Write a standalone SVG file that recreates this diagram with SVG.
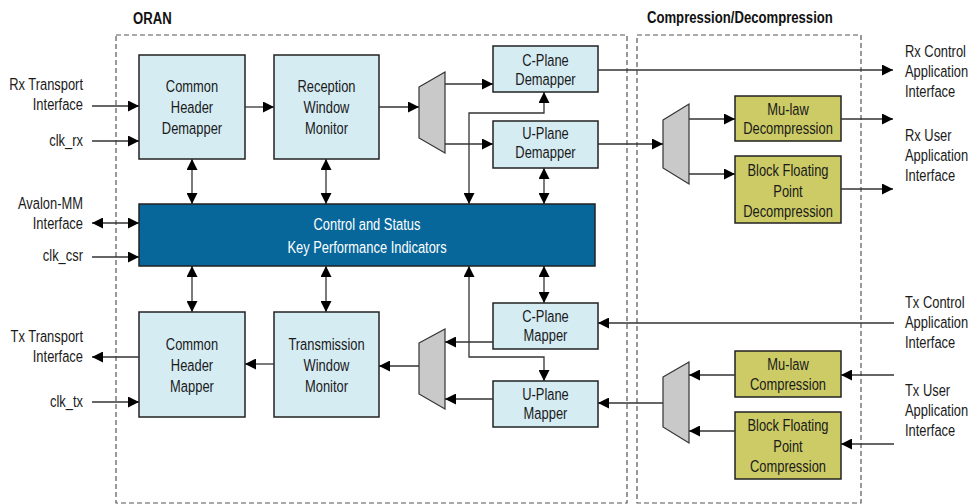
<svg xmlns="http://www.w3.org/2000/svg" width="972" height="504" viewBox="0 0 972 504">
<style>
text{font-family:"Liberation Sans",Arial,sans-serif;font-size:17px;fill:#1a1a1a}
.c{text-anchor:middle}
.r{text-anchor:end}
.t{font-weight:bold;font-size:16px;fill:#111}
.w{fill:#fff}
.box{fill:#d5ecf3;stroke:#222;stroke-width:1.5}
.csk{fill:#07679b;stroke:#222;stroke-width:1.5}
.ol{fill:#cccb66;stroke:#222;stroke-width:1.5}
.mux{fill:#c9c9c9;stroke:#333;stroke-width:1.2}
.dash{fill:none;stroke:#555;stroke-width:1.2;stroke-dasharray:5,3}
#conn line,#conn polyline{fill:none;stroke:#333;stroke-width:1.3}
.e{marker-end:url(#ah)}
.b{marker-start:url(#ah);marker-end:url(#ah)}
</style>
<defs>
<marker id="ah" viewBox="0 0 10 10" refX="10" refY="5" markerWidth="11" markerHeight="11" markerUnits="userSpaceOnUse" orient="auto-start-reverse">
<path d="M0,0 L10,5 L0,10 z" fill="#000"/>
</marker>
</defs>
<rect width="972" height="504" fill="#fff"/>
<g id="oran-frame">
<rect class="dash" x="116" y="35" width="511" height="468"/>
<g transform="scale(0.82,1)"><text class="t" x="162.2" y="24">ORAN</text></g>
</g>
<g id="comp-frame">
<rect class="dash" x="637" y="35" width="224" height="468"/>
<g transform="scale(0.82,1)"><text class="t" x="789" y="23">Compression/Decompression</text></g>
</g>
<g id="labels" transform="scale(0.76,1)">
<text class="r" x="109.21" y="90">Rx Transport</text>
<text class="r" x="109.21" y="110">Interface</text>
<text class="r" x="109.21" y="146">clk_rx</text>
<text class="r" x="109.21" y="209">Avalon-MM</text>
<text class="r" x="109.21" y="229">Interface</text>
<text class="r" x="109.21" y="261">clk_csr</text>
<text class="r" x="109.21" y="342">Tx Transport</text>
<text class="r" x="109.21" y="362">Interface</text>
<text class="r" x="109.21" y="407">clk_tx</text>
<text x="1190.79" y="57">Rx Control</text>
<text x="1190.79" y="77">Application</text>
<text x="1190.79" y="97">Interface</text>
<text x="1190.79" y="141">Rx User</text>
<text x="1190.79" y="161">Application</text>
<text x="1190.79" y="181">Interface</text>
<text x="1190.79" y="308">Tx Control</text>
<text x="1190.79" y="328">Application</text>
<text x="1190.79" y="348">Interface</text>
<text x="1190.79" y="396">Tx User</text>
<text x="1190.79" y="416">Application</text>
<text x="1190.79" y="436">Interface</text>
</g>
<g id="chd">
<rect class="box" x="139" y="55" width="106" height="104"/>
<g transform="scale(0.76,1)">
<text class="c" x="252.63" y="92">Common</text>
<text class="c" x="252.63" y="113">Header</text>
<text class="c" x="252.63" y="134">Demapper</text>
</g>
</g>
<g id="rwm">
<rect class="box" x="274" y="55" width="105" height="104"/>
<g transform="scale(0.76,1)">
<text class="c" x="429.61" y="92">Reception</text>
<text class="c" x="429.61" y="113">Window</text>
<text class="c" x="429.61" y="134">Monitor</text>
</g>
</g>
<g id="mux1"><path class="mux" d="M419,87 L445,72 L445,153 L419,138 Z"/></g>
<g id="cpd">
<rect class="box" x="493" y="46" width="105" height="46"/>
<g transform="scale(0.76,1)">
<text class="c" x="717.76" y="66">C-Plane</text>
<text class="c" x="717.76" y="85">Demapper</text>
</g>
</g>
<g id="upd">
<rect class="box" x="493" y="121" width="105" height="47"/>
<g transform="scale(0.76,1)">
<text class="c" x="717.76" y="139">U-Plane</text>
<text class="c" x="717.76" y="158">Demapper</text>
</g>
</g>
<g id="csk">
<rect class="csk" x="139" y="204" width="456" height="62"/>
<g transform="scale(0.76,1)">
<text class="c w" x="482.89" y="230">Control and Status</text>
<text class="c w" x="482.89" y="253">Key Performance Indicators</text>
</g>
</g>
<g id="chm">
<rect class="box" x="139" y="312" width="106" height="105"/>
<g transform="scale(0.76,1)">
<text class="c" x="252.63" y="350">Common</text>
<text class="c" x="252.63" y="371">Header</text>
<text class="c" x="252.63" y="392">Mapper</text>
</g>
</g>
<g id="twm">
<rect class="box" x="274" y="312" width="105" height="105"/>
<g transform="scale(0.76,1)">
<text class="c" x="429.61" y="350">Transmission</text>
<text class="c" x="429.61" y="371">Window</text>
<text class="c" x="429.61" y="392">Monitor</text>
</g>
</g>
<g id="mux2"><path class="mux" d="M419,343 L445,329 L445,409 L419,394 Z"/></g>
<g id="cpm">
<rect class="box" x="493" y="303" width="105" height="46"/>
<g transform="scale(0.76,1)">
<text class="c" x="717.76" y="322">C-Plane</text>
<text class="c" x="717.76" y="341">Mapper</text>
</g>
</g>
<g id="upm">
<rect class="box" x="493" y="381" width="105" height="46"/>
<g transform="scale(0.76,1)">
<text class="c" x="717.76" y="400">U-Plane</text>
<text class="c" x="717.76" y="419">Mapper</text>
</g>
</g>
<g id="mux3"><path class="mux" d="M663,120 L689,104 L689,184 L663,168 Z"/></g>
<g id="mud">
<rect class="ol" x="735" y="96" width="106" height="45"/>
<g transform="scale(0.76,1)">
<text class="c" x="1036.84" y="115">Mu-law</text>
<text class="c" x="1036.84" y="134">Decompression</text>
</g>
</g>
<g id="bfpd">
<rect class="ol" x="735" y="156" width="106" height="67"/>
<g transform="scale(0.76,1)">
<text class="c" x="1036.84" y="176">Block Floating</text>
<text class="c" x="1036.84" y="197">Point</text>
<text class="c" x="1036.84" y="217">Decompression</text>
</g>
</g>
<g id="mux4"><path class="mux" d="M663,377 L689,362 L689,443 L663,427 Z"/></g>
<g id="muc">
<rect class="ol" x="735" y="351" width="106" height="46"/>
<g transform="scale(0.76,1)">
<text class="c" x="1036.84" y="370">Mu-law</text>
<text class="c" x="1036.84" y="390">Compression</text>
</g>
</g>
<g id="bfpc">
<rect class="ol" x="735" y="412" width="106" height="67"/>
<g transform="scale(0.76,1)">
<text class="c" x="1036.84" y="431">Block Floating</text>
<text class="c" x="1036.84" y="452">Point</text>
<text class="c" x="1036.84" y="472">Compression</text>
</g>
</g>
<g id="conn">
<line class="e" x1="92" y1="106" x2="139" y2="106"/>
<line class="e" x1="92" y1="141" x2="139" y2="141"/>
<line class="e" x1="245" y1="107" x2="274" y2="107"/>
<line class="e" x1="379" y1="107" x2="419" y2="107"/>
<line class="e" x1="445" y1="84" x2="493" y2="84"/>
<line class="e" x1="445" y1="144" x2="493" y2="144"/>
<line class="e" x1="598" y1="70" x2="893" y2="70"/>
<line class="e" x1="598" y1="144" x2="663" y2="144"/>
<line class="e" x1="689" y1="119" x2="735" y2="119"/>
<line class="e" x1="689" y1="174" x2="735" y2="174"/>
<line class="e" x1="841" y1="119" x2="893" y2="119"/>
<line class="e" x1="841" y1="189" x2="893" y2="189"/>
<line class="b" x1="192" y1="159" x2="192" y2="204"/>
<line class="b" x1="326" y1="159" x2="326" y2="204"/>
<polyline class="b" points="469,204 469,113 544,113 544,92"/>
<line class="b" x1="544" y1="168" x2="544" y2="204"/>
<line class="b" x1="92" y1="223" x2="139" y2="223"/>
<line class="e" x1="92" y1="257" x2="139" y2="257"/>
<line class="b" x1="192" y1="266" x2="192" y2="312"/>
<line class="b" x1="326" y1="266" x2="326" y2="312"/>
<line class="b" x1="544" y1="266" x2="544" y2="303"/>
<polyline class="b" points="469,266 469,357 544,357 544,381"/>
<line class="e" x1="894" y1="323" x2="598" y2="323"/>
<line class="e" x1="493" y1="342" x2="445" y2="342"/>
<line class="e" x1="493" y1="399" x2="445" y2="399"/>
<line class="e" x1="419" y1="366" x2="379" y2="366"/>
<line class="e" x1="274" y1="364" x2="245" y2="364"/>
<line class="e" x1="139" y1="357" x2="92" y2="357"/>
<line class="e" x1="92" y1="402" x2="139" y2="402"/>
<line class="e" x1="894" y1="375" x2="841" y2="375"/>
<line class="e" x1="894" y1="444" x2="841" y2="444"/>
<line class="e" x1="735" y1="375" x2="689" y2="375"/>
<line class="e" x1="735" y1="431" x2="689" y2="431"/>
<line class="e" x1="663" y1="403" x2="598" y2="403"/>
</g>
</svg>
